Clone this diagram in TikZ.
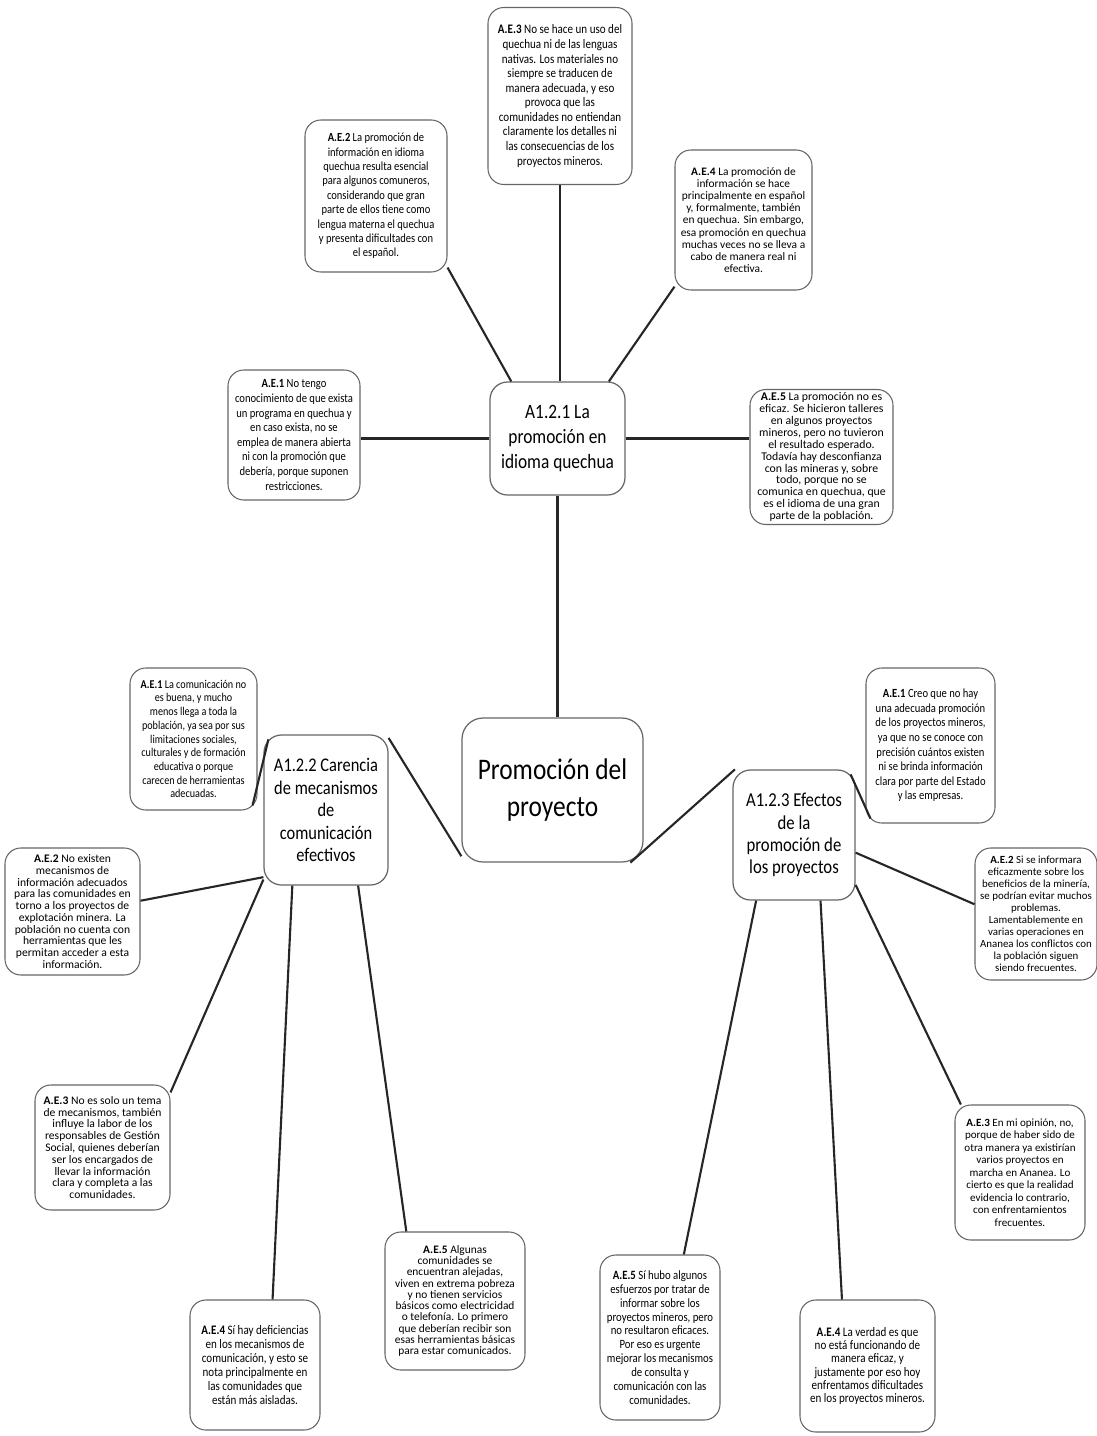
\documentclass[tikz,border=0pt]{standalone}
\usepackage{fontspec}
\setmainfont{Carlito}[FakeStretch=0.85]
\newfontfamily\fN{Carlito}[FakeStretch=0.85]
\newfontfamily\fM{Carlito}[FakeStretch=1.0]
\usetikzlibrary{calc}
\begin{document}
\begin{tikzpicture}[x=0.02cm,y=-0.02cm]
\tikzset{
  ae/.style={draw=black!60, line width=0.6pt, rounded corners=9pt, align=center, inner sep=1pt},
  hub/.style={draw=black!60, line width=0.7pt, rounded corners=10pt, align=center, inner sep=1pt},
  fs/.style n args={3}{font=#1\fontsize{#2}{#3}\selectfont},
  sz/.style 2 args={minimum width=#1*0.02cm, minimum height=#2*0.02cm},
  link/.style={line width=1.2pt, draw=black!85},
}
\useasboundingbox[fill=white] (0,0) rectangle (1097,1436);

% central node
\node[hub, sz={181}{144}, rounded corners=12pt, fs={\fN}{17}{21.5}] (M) at (552.5,790) {Promoción del\\proyecto};

% hubs
\node[hub, sz={135}{113}, fs={\fN}{11.6}{14}] (A121) at (557.5,438.5) {A1.2.1 La\\promoción en\\idioma quechua};
\node[hub, sz={124}{150}, fs={\fN}{11.0}{12.8}] (A122) at (326,810) {A1.2.2 Carencia\\de mecanismos\\de\\comunicación\\efectivos};
\node[hub, sz={122}{130}, fs={\fN}{11.2}{12.6}] (A123) at (794,835) {A1.2.3 Efectos\\de la\\promoción de\\los proyectos};

% top group
\node[ae, sz={144}{177}, fs={\fN}{7.4}{8.3}] (T3) at (560,96) {\textbf{A.E.3} No se hace un uso del\\quechua ni de las lenguas\\nativas. Los materiales no\\siempre se traducen de\\manera adecuada, y eso\\provoca que las\\comunidades no entiendan\\claramente los detalles ni\\las consecuencias de los\\proyectos mineros.};
\node[ae, sz={142}{152}, fs={\fN}{7.05}{8.2}] (T2) at (376,196) {\textbf{A.E.2} La promoción de\\información en idioma\\quechua resulta esencial\\para algunos comuneros,\\considerando que gran\\parte de ellos tiene como\\lengua materna el quechua\\y presenta dificultades con\\el español.};
\node[ae, sz={137}{140}, fs={\fM}{6.5}{6.9}] (T4) at (743.5,220) {\textbf{A.E.4} La promoción de\\información se hace\\principalmente en español\\y, formalmente, también\\en quechua. Sin embargo,\\esa promoción en quechua\\muchas veces no se lleva a\\cabo de manera real ni\\efectiva.};
\node[ae, sz={132}{130}, fs={\fN}{7.1}{8.3}] (T1) at (294,435) {\textbf{A.E.1} No tengo\\conocimiento de que exista\\un programa en quechua y\\en caso exista, no se\\emplea de manera abierta\\ni con la promoción que\\debería, porque suponen\\restricciones.};
\node[ae, sz={143}{135}, fs={\fM}{6.7}{6.8}] (T5) at (821.5,457) {\textbf{A.E.5} La promoción no es\\eficaz. Se hicieron talleres\\en algunos proyectos\\mineros, pero no tuvieron\\el resultado esperado.\\Todavía hay desconfianza\\con las mineras y, sobre\\todo, porque no se\\comunica en quechua, que\\es el idioma de una gran\\parte de la población.};

% left group
\node[ae, sz={127}{142}, fs={\fN}{6.8}{7.8}] (L1) at (193.5,739) {\textbf{A.E.1} La comunicación no\\es buena, y mucho\\menos llega a toda la\\población, ya sea por sus\\limitaciones sociales,\\culturales y de formación\\educativa o porque\\carecen de herramientas\\adecuadas.};
\node[ae, sz={135}{127}, fs={\fM}{6.6}{6.7}] (L2) at (72.5,911.5) {\textbf{A.E.2} No existen\\mecanismos de\\información adecuados\\para las comunidades en\\torno a los proyectos de\\explotación minera. La\\población no cuenta con\\herramientas que les\\permitan acceder a esta\\información.};
\node[ae, sz={135}{125}, fs={\fM}{6.6}{6.7}] (L3) at (102.5,1147.5) {\textbf{A.E.3} No es solo un tema\\de mecanismos, también\\influye la labor de los\\responsables de Gestión\\Social, quienes deberían\\ser los encargados de\\llevar la información\\clara y completa a las\\comunidades.};
\node[ae, sz={130}{130}, fs={\fN}{7.4}{8.0}] (L4) at (255,1365) {\textbf{A.E.4} Sí hay deficiencias\\en los mecanismos de\\comunicación, y esto se\\nota principalmente en\\las comunidades que\\están más aisladas.};
\node[ae, sz={140}{138}, fs={\fM}{6.5}{6.4}] (L5) at (455,1301) {\textbf{A.E.5} Algunas\\comunidades se\\encuentran alejadas,\\viven en extrema pobreza\\y no tienen servicios\\básicos como electricidad\\o telefonía. Lo primero\\que deberían recibir son\\esas herramientas básicas\\para estar comunicados.};

% right group
\node[ae, sz={129}{155}, fs={\fN}{7.1}{8.3}] (R1) at (930.5,745.5) {\textbf{A.E.1} Creo que no hay\\una adecuada promoción\\de los proyectos mineros,\\ya que no se conoce con\\precisión cuántos existen\\ni se brinda información\\clara por parte del Estado\\y las empresas.};
\node[ae, sz={122}{132}, fs={\fM}{6.2}{6.8}] (R2) at (1036,914) {\textbf{A.E.2} Si se informara\\eficazmente sobre los\\beneficios de la minería,\\se podrían evitar muchos\\problemas.\\Lamentablemente en\\varias operaciones en\\Ananea los conflictos con\\la población siguen\\siendo frecuentes.};
\node[ae, sz={130}{135}, fs={\fM}{6.3}{7.1}] (R3) at (1020,1172.5) {\textbf{A.E.3} En mi opinión, no,\\porque de haber sido de\\otra manera ya existirían\\varios proyectos en\\marcha en Ananea. Lo\\cierto es que la realidad\\evidencia lo contrario,\\con enfrentamientos\\frecuentes.};
\node[ae, sz={135}{132}, fs={\fN}{7.4}{7.6}] (R4) at (867.5,1366) {\textbf{A.E.4} La verdad es que\\no está funcionando de\\manera eficaz, y\\justamente por eso hoy\\enfrentamos dificultades\\en los proyectos mineros.};
\node[ae, sz={120}{165}, fs={\fN}{7.2}{7.9}] (R5) at (660,1337.5) {\textbf{A.E.5} Sí hubo algunos\\esfuerzos por tratar de\\informar sobre los\\proyectos mineros, pero\\no resultaron eficaces.\\Por eso es urgente\\mejorar los mecanismos\\de consulta y\\comunicación con las\\comunidades.};

% connectors: main
\draw[link] (A121.south) -- (A121.south |- M.north);
\draw[link] (M.216) -- (A122.49);
\draw[link] (M.-43) -- (A123.132);

% connectors: top
\draw[link] (A121.west) -- (A121.west -| T1.east);
\draw[link] (T2.-45) -- (A121.129);
\draw[link] (T3.south) -- (T3.south |- A121.north);
\draw[link] (T4.224) -- (A121.48);
\draw[link] (A121.east) -- (A121.east -| T5.west);

% connectors: left
\draw[link] ($(L1.south east)+(-5,-5)$) -- ($(A122.north west)+(5,5)$);
\draw[link] (L2.9) -- (A122.227);
\draw[link] (L3.39) -- (A122.228);
\draw[link] (L4.75) -- (A122.246);
\draw[link] (L5.125) -- (A122.-67);

% connectors: right
\draw[link] ($(R1.south west)+(5,-5)$) -- ($(A123.north east)+(-5,5)$);
\draw[link] (R2.171) -- (A123.-16);
\draw[link] (R3.131) -- (A123.-39);
\draw[link] (R4.111) -- (A123.-68);
\draw[link] (R5.74) -- (A123.240);
\end{tikzpicture}
\end{document}
